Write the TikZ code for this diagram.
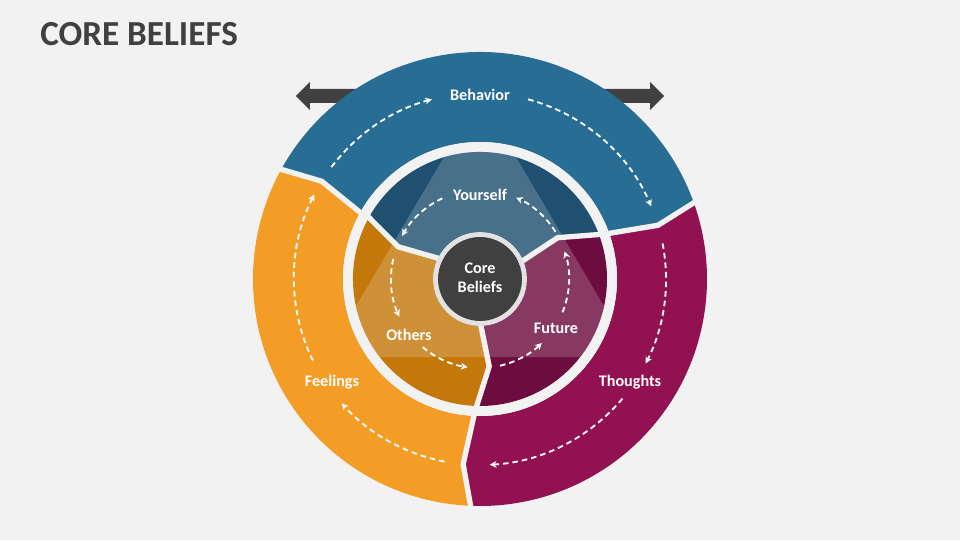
\documentclass[tikz,border=0pt]{standalone}
\usepackage{fontspec}
\setmainfont{Carlito}
\usetikzlibrary{arrows.meta}
\definecolor{bgcol}{HTML}{F2F2F2}
\definecolor{coregray}{HTML}{404040}
\definecolor{coreedge}{HTML}{E2E2E2}
\definecolor{behaviorcol}{HTML}{286E94}
\definecolor{thoughtscol}{HTML}{921251}
\definecolor{feelingscol}{HTML}{F39D27}
\definecolor{yourselfcol}{HTML}{1F5070}
\definecolor{futurecol}{HTML}{6D0C3E}
\definecolor{otherscol}{HTML}{C5780A}
\tikzset{>=stealth}
\tikzset{
  lbl/.style={text=white, font=\fontsize{11.5}{13.5}\selectfont\bfseries, align=center, inner sep=0pt},
  flow/.style={white, line width=1.3pt, dash pattern=on 4pt off 2.8pt, -{Stealth[length=4.8pt,width=4.8pt]}},
  gapline/.style={bgcol, line width=3.8pt, line join=round}
}
\newcommand\outerseg[3]{\fill[#1] (#2:137) -- ({#2-3.2}:186) -- (#2:227) arc[start angle=#2, end angle=#3, radius=227] -- ({#3-3.2}:186) -- (#3:137) arc[start angle=#3, end angle=#2, radius=137] -- cycle;}
\newcommand\innerseg[3]{\fill[#1] (0,0) -- (#2:44) -- ({#2+8}:88) -- (#2:127) arc[start angle=#2, end angle=#3, radius=127] -- ({#3+8}:88) -- (#3:44) -- cycle;}

\begin{document}
\begin{tikzpicture}[x=0.025cm, y=0.025cm]
    \useasboundingbox (-480,-261) rectangle (480,279);
    \fill[bgcol] (-480,-261) rectangle (480,279);
    \node[anchor=base west, inner sep=0pt, text=coregray, font=\fontsize{25}{30}\selectfont\bfseries] (title) at (-440,233) {CORE BELIEFS};
    \fill[coregray] (-184,183) -- (-170,197) -- (-170,190) -- (170,190) -- (170,197) -- (184,183) -- (170,169) -- (170,176) -- (-170,176) -- (-170,169) -- cycle;
    \outerseg{behaviorcol}{151.5}{20}
    \outerseg{thoughtscol}{20}{-92}
    \outerseg{feelingscol}{268}{151.5}
    \foreach \a in {151.5, 20, -92}
        \draw[gapline] (\a:130) -- ({\a-3.2}:186) -- (\a:234);
    \fill[bgcol] (0,0) circle[radius=137];
    \innerseg{yourselfcol}{20}{150.5}
    \innerseg{otherscol}{150.5}{268}
    \innerseg{futurecol}{268}{380}
    \begin{scope}
        \clip (0,0) circle[radius=127];
        \fill[white, opacity=0.19] (-33,127) -- (33,127) -- (154,-78) -- (-154,-78) -- cycle;
    \end{scope}
    \foreach \a in {150.5, 20, 268}
        \draw[gapline] (\a:36) -- ({\a+8}:88) -- (\a:131);
    \fill[coregray] (0,0) circle[radius=42];
    \draw[coreedge, line width=3.4pt] (0,0) circle[radius=44.5];
    \foreach \a/\b in {143/105, 75/23, 11/-27, -40/-87, -101/-138, -154/-207}
        \draw[flow] (\a:186) arc[start angle=\a, end angle=\b, radius=186];
    \foreach \a/\b in {115/151, 32/66, 167/205, 230/262, 283/314, 338/378}
        \draw[flow] (\a:89) arc[start angle=\a, end angle=\b, radius=89];
    \node[lbl] (core) at (0,1) {Core\\Beliefs};
    \node[lbl, anchor=base] (behavior) at (0,178) {Behavior};
    \node[lbl, anchor=base] (thoughts) at (150,-107) {Thoughts};
    \node[lbl, anchor=base] (feelings) at (-148,-107) {Feelings};
    \node[lbl, anchor=base] (yourself) at (0,79) {Yourself};
    \node[lbl, anchor=base] (others) at (-71,-61) {Others};
    \node[lbl, anchor=base] (future) at (76,-54) {Future};
\end{tikzpicture}
\end{document}
